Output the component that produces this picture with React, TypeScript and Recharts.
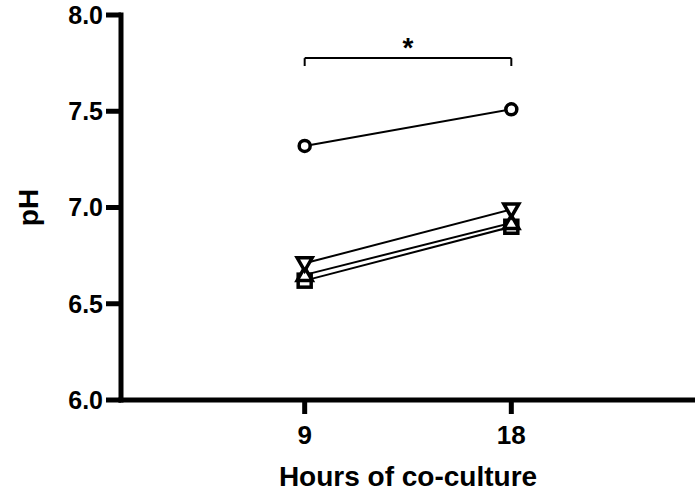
import React from "react";
import {
  LineChart,
  Line,
  XAxis,
  YAxis,
  ReferenceLine,
  Label,
} from "recharts";

const hours = [9, 18];
const circleValues = [7.32, 7.51];
const downTriangleValues = [6.71, 6.99];
const upTriangleValues = [6.65, 6.92];
const squareValues = [6.62, 6.9];
const yTicks = [6.0, 6.5, 7.0, 7.5, 8.0];
const xTicks = [9, 18];

const bracketY = 7.776;
const bracketFoot = 7.735;

const data = hours.map((h, i) => ({
  hours: h,
  circle: circleValues[i],
  down: downTriangleValues[i],
  up: upTriangleValues[i],
  square: squareValues[i],
}));

const FONT = "'Liberation Sans', Arial, Helvetica, sans-serif";

const markerStyle = { fill: "#fff", stroke: "#000", strokeWidth: 3.5 };

const CircleDot = (props: any) => {
  const { cx, cy, index } = props;
  return <circle key={`c${index}`} cx={cx} cy={cy} r={5.5} {...markerStyle} />;
};

const SquareDot = (props: any) => {
  const { cx, cy, index } = props;
  return (
    <rect key={`s${index}`} x={cx - 6.5} y={cy - 6.5} width={13} height={13} {...markerStyle} />
  );
};

const UpDot = (props: any) => {
  const { cx, cy, index } = props;
  const pts = `${cx},${cy - 7.5} ${cx + 7.5},${cy + 5.5} ${cx - 7.5},${cy + 5.5}`;
  return <polygon key={`u${index}`} points={pts} {...markerStyle} />;
};

const DownDot = (props: any) => {
  const { cx, cy, index } = props;
  const pts = `${cx - 7.5},${cy - 5.5} ${cx + 7.5},${cy - 5.5} ${cx},${cy + 7.5}`;
  return <polygon key={`d${index}`} points={pts} {...markerStyle} />;
};

const PhLabel = (props: any) => {
  const vb = props.viewBox || {};
  const cy = (vb.y || 0) + (vb.height || 0) / 2;
  return (
    <text
      x={28}
      y={cy}
      transform={`rotate(-90, 28, ${cy})`}
      textAnchor="middle"
      dominantBaseline="central"
      fontFamily={FONT}
      fontWeight="bold"
      fontSize={28}
      fill="#000"
    >
      pH
    </text>
  );
};

const axisLine = { stroke: "#000", strokeWidth: 5, strokeLinecap: "square" as const };
const tickLine = { stroke: "#000", strokeWidth: 5 };
const tickStyle = { fill: "#000", fontSize: 25, fontWeight: "bold", fontFamily: FONT };

export default function App() {
  return (
    <div style={{ position: "absolute", left: 0, top: 0, background: "#fff" }}>
      <LineChart
        width={695}
        height={492}
        data={data}
        margin={{ top: 15, right: 0, bottom: 0, left: 0 }}
      >
        <XAxis
          type="number"
          dataKey="hours"
          domain={[1, 26]}
          ticks={xTicks}
          height={92}
          axisLine={axisLine}
          tickLine={tickLine}
          tickSize={14}
          tickMargin={12}
          tick={{ ...tickStyle, fontSize: 26 }}
        >
          <Label
            value="Hours of co-culture"
            position="insideBottom"
            offset={6}
            style={{ fill: "#000", fontSize: 28, fontWeight: "bold", fontFamily: FONT }}
          />
        </XAxis>
        <YAxis
          type="number"
          domain={[6, 8]}
          ticks={yTicks}
          width={121}
          axisLine={axisLine}
          tickLine={tickLine}
          tickSize={15}
          tickMargin={3}
          tick={tickStyle}
          tickFormatter={(v: number) => v.toFixed(1)}
          label={<PhLabel />}
        />
        <ReferenceLine
          segment={[
            { x: hours[0], y: bracketY },
            { x: hours[1], y: bracketY },
          ]}
          stroke="#000"
          strokeWidth={2}
        >
          <Label
            value="*"
            position="top"
            offset={1}
            style={{ fill: "#000", fontSize: 28, fontWeight: "bold", fontFamily: FONT }}
          />
        </ReferenceLine>
        <ReferenceLine
          segment={[
            { x: hours[0], y: bracketY },
            { x: hours[0], y: bracketFoot },
          ]}
          stroke="#000"
          strokeWidth={2}
        />
        <ReferenceLine
          segment={[
            { x: hours[1], y: bracketY },
            { x: hours[1], y: bracketFoot },
          ]}
          stroke="#000"
          strokeWidth={2}
        />
        <Line
          dataKey="square"
          stroke="#000"
          strokeWidth={2}
          dot={SquareDot}
          isAnimationActive={false}
        />
        <Line
          dataKey="up"
          stroke="#000"
          strokeWidth={2}
          dot={UpDot}
          isAnimationActive={false}
        />
        <Line
          dataKey="down"
          stroke="#000"
          strokeWidth={2}
          dot={DownDot}
          isAnimationActive={false}
        />
        <Line
          dataKey="circle"
          stroke="#000"
          strokeWidth={2}
          dot={CircleDot}
          isAnimationActive={false}
        />
      </LineChart>
    </div>
  );
}
